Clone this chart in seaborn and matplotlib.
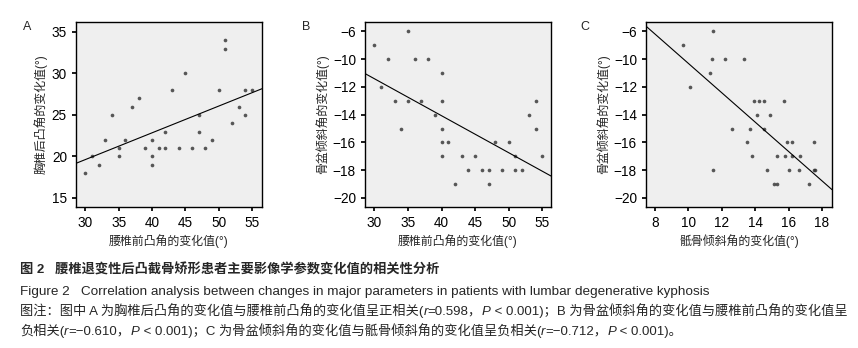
import matplotlib
matplotlib.use('Agg')
import matplotlib.pyplot as plt
import seaborn as sns

# panel A: lumbar lordosis change vs thoracic kyphosis change
lordosis_a = [30, 31, 32, 33, 34, 35, 35, 36, 37, 38, 39, 40, 40, 40, 41, 42, 42,
              43, 44, 45, 46, 47, 47, 48, 49, 50, 51, 51, 52, 53, 54, 54, 55]
kyphosis_a = [18, 20, 19, 22, 25, 21, 20, 22, 26, 27, 21, 22, 20, 19, 21, 23, 21,
              28, 21, 30, 21, 25, 23, 21, 22, 28, 34, 33, 24, 26, 28, 25, 28]

# panel B: lumbar lordosis change vs pelvic tilt change
lordosis_b = [30, 31, 32, 33, 34, 35, 35, 36, 37, 38, 39, 40, 40, 40, 40, 40, 41,
              42, 43, 44, 45, 46, 47, 47, 48, 49, 50, 51, 51, 52, 53, 54, 54, 55]
pelvic_b = [-9, -12, -10, -13, -15, -8, -13, -10, -13, -10, -14, -11, -13, -15, -16, -17, -16,
            -19, -17, -18, -17, -18, -18, -19, -16, -18, -16, -17, -18, -18, -14, -13, -15, -17]

# panel C: sacral slope change vs pelvic tilt change
sacral_c = [9.7, 10.1, 11.3, 11.4, 11.5, 11.5, 12.2, 12.6, 13.3, 13.5, 13.7, 13.8, 13.9,
            14.1, 14.2, 14.5, 14.5, 14.7, 14.9, 15.1, 15.3, 15.3, 15.7, 15.8, 15.9, 16.0,
            16.2, 16.2, 16.6, 16.7, 17.2, 17.5, 17.5, 17.6]
pelvic_c = [-9, -12, -11, -10, -8, -18, -10, -15, -10, -16, -15, -17, -13,
            -14, -13, -13, -15, -18, -14, -19, -19, -17, -13, -17, -16, -18,
            -16, -17, -18, -17, -19, -16, -18, -18]

# tick labels as printed in the original (top tick reads -6)
ticks_a_x = [30, 35, 40, 45, 50, 55]
ticks_a_y = [15, 20, 25, 30, 35]
ticks_neg = [-20, -18, -16, -14, -12, -10, -8]
labels_neg = ['−20', '−18', '−16', '−14', '−12', '−10', '−6']
ticks_c_x = [8, 10, 12, 14, 16, 18]

sns.set_theme(style='ticks', rc={'axes.facecolor': '#efefef', 'axes.edgecolor': 'black',
                                 'axes.linewidth': 1.0, 'xtick.color': 'black',
                                 'ytick.color': 'black', 'xtick.major.size': 3,
                                 'ytick.major.size': 3, 'xtick.labelsize': 9.8,
                                 'ytick.labelsize': 9.8})
plt.rcParams['font.family'] = ['Liberation Sans', 'Noto Sans CJK SC']
plt.rcParams['axes.unicode_minus'] = True

fig = plt.figure(figsize=(8.58, 3.48), dpi=100)

panels = [
    ('A', lordosis_a, kyphosis_a, 76, 23, (28.6, 56.5), (13.9, 36.2), ticks_a_x, ticks_a_y, None,
     '腰椎前凸角的变化值(°)', '胸椎后凸角的变化值(°)'),
    ('B', lordosis_b, pelvic_b, 365, 302, (28.6, 56.3), (-20.65, -7.32), ticks_a_x, ticks_neg,
     labels_neg, '腰椎前凸角的变化值(°)', '骨盆倾斜角的变化值(°)'),
    ('C', sacral_c, pelvic_c, 646, 580, (7.46, 18.6), (-20.65, -7.32), ticks_c_x, ticks_neg,
     labels_neg, '骶骨倾斜角的变化值(°)', '骨盆倾斜角的变化值(°)'),
]

for letter, xs, ys, left, lx, xlim, ylim, xt, yt, ylabels, xlab, ylab in panels:
    ax = fig.add_axes([left / 858, 1 - 207 / 348, 186 / 858, 185 / 348])
    ax.set_xlim(xlim)
    ax.set_ylim(ylim)
    # line spans the whole x range like the original
    sns.regplot(x=xs, y=ys, ax=ax, ci=None, truncate=False,
                scatter_kws={'s': 7, 'color': '#303030', 'linewidths': 0},
                line_kws={'color': 'black', 'linewidth': 0.8})
    ax.set_xlim(xlim)
    ax.set_ylim(ylim)
    ax.set_xticks(xt)
    ax.set_yticks(yt)
    if ylabels is not None:
        ax.set_yticklabels(ylabels)
    ax.set_xlabel(xlab, fontsize=8.6, labelpad=3)
    ax.set_ylabel(ylab, fontsize=8.6, labelpad=3)
    for s in ax.spines.values():
        s.set_visible(True)
        s.set_color('black')
    fig.text(lx / 858, 1 - 27 / 348, letter, fontsize=9, va='center', ha='left')


def chain(pieces, x, y, size):
    # place text pieces one after another on the same line
    last = None
    for txt, style in pieces:
        if last is None:
            last = fig.text(x, y, txt, fontsize=size, style=style, ha='left', va='baseline')
        else:
            last = fig.text(0, 0, txt, fontsize=size, style=style, ha='left', va='bottom',
                            transform=matplotlib.transforms.IdentityTransform())
            last.set_visible(False)
            last = plt.annotate(txt, xy=(1, 0), xycoords=prev, fontsize=size, style=style,
                                ha='left', va='bottom', annotation_clip=False)
        prev = last
    return last


fig.text(20 / 858, 1 - 274 / 348, '图 2   腰椎退变性后凸截骨矫形患者主要影像学参数变化值的相关性分析',
         fontsize=9.5, weight='bold', va='baseline')
fig.text(20 / 858, 1 - 295 / 348,
         'Figure 2   Correlation analysis between changes in major parameters in patients with lumbar degenerative kyphosis',
         fontsize=9.7, va='baseline')
chain([('图注：图中 A 为胸椎后凸角的变化值与腰椎前凸角的变化值呈正相关(', 'normal'),
       ('r', 'italic'), ('=0.598，', 'normal'), ('P', 'italic'),
       (' < 0.001)；B 为骨盆倾斜角的变化值与腰椎前凸角的变化值呈', 'normal')],
      20 / 858, 1 - 315 / 348, 9.5)
chain([('负相关(', 'normal'), ('r', 'italic'), ('=−0.610，', 'normal'), ('P', 'italic'),
       (' < 0.001)；C 为骨盆倾斜角的变化值与骶骨倾斜角的变化值呈负相关(', 'normal'),
       ('r', 'italic'), ('=−0.712，', 'normal'), ('P', 'italic'), (' < 0.001)。', 'normal')],
      20 / 858, 1 - 335 / 348, 9.5)

fig.savefig('out.png', dpi=100)
